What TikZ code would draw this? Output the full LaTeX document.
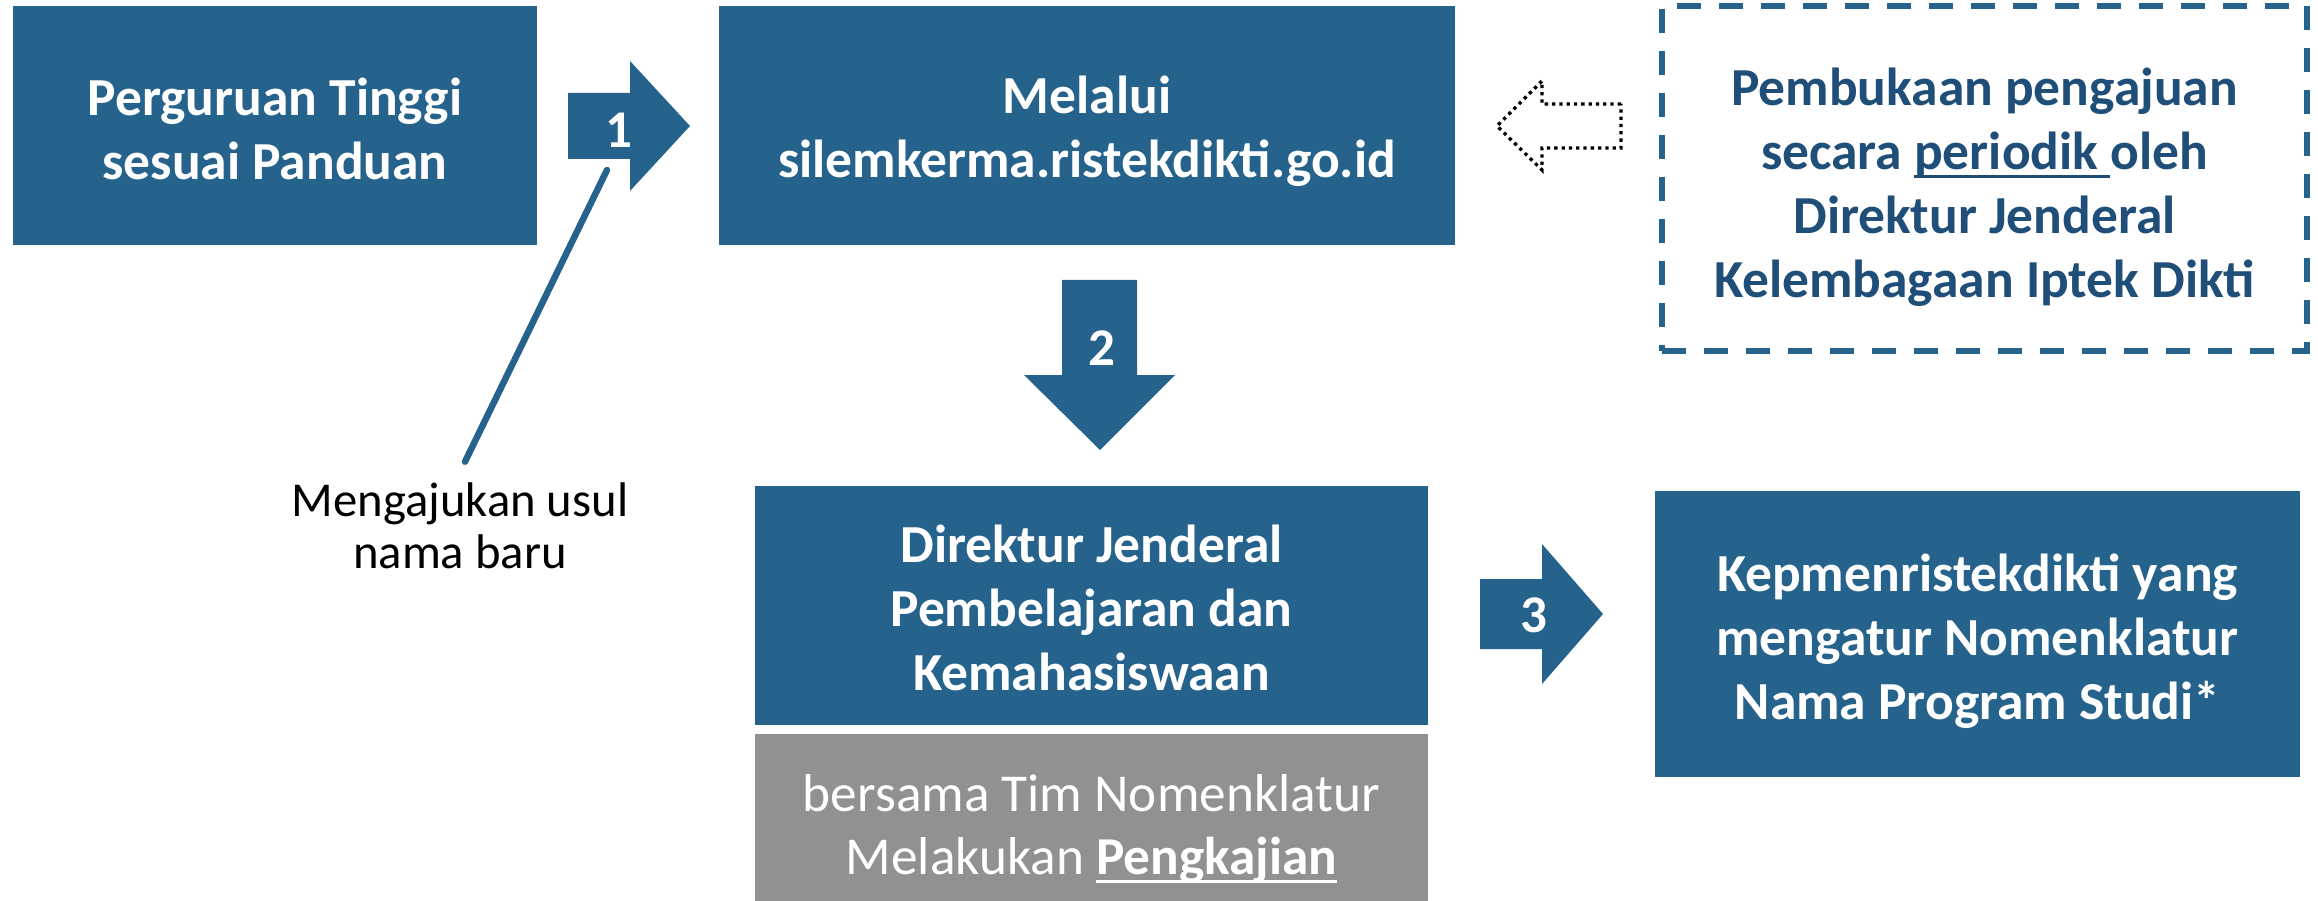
\documentclass[tikz,border=0pt]{standalone}
\usepackage{fontspec}
\setmainfont{Carlito}
\usetikzlibrary{calc}
\definecolor{boxblue}{RGB}{38,99,140}
\definecolor{darkblue}{RGB}{31,78,121}
\definecolor{boxgray}{RGB}{145,145,145}
\newcommand\myul[1]{\setbox0\hbox{#1}\rlap{\rule[-8.5pt]{\wd0}{3pt}}\box0}
\tikzset{
  x=1pt, y=-1pt,
  bluebox/.style={fill=boxblue, draw=none, inner sep=0pt, outer sep=0pt},
  graybox/.style={fill=boxgray, draw=none, inner sep=0pt, outer sep=0pt},
  dashbox/.style={draw=boxblue, line width=5.5pt, dash pattern=on 24pt off 18pt, inner sep=0pt},
  wtext/.style={text=white, font=\fontsize{53.5}{64}\selectfont\bfseries, align=center, inner sep=0pt},
  btext/.style={text=darkblue, font=\fontsize{53.5}{64}\selectfont\bfseries, align=center, inner sep=0pt},
  gtext/.style={text=white, font=\fontsize{53.3}{63}\selectfont, align=center, inner sep=0pt},
  ltext/.style={text=black, font=\fontsize{48.7}{52}\selectfont, align=center, inner sep=0pt},
  numtext/.style={text=white, font=\fontsize{53}{60}\selectfont\bfseries, inner sep=0pt},
  blockarrow/.style={fill=boxblue, draw=none},
  dotarrow/.style={draw=black, line width=3.3pt, dash pattern=on 3.3pt off 4pt},
  callout/.style={draw=boxblue, line width=6.5pt, line cap=round}
}
\begin{document}
\begin{tikzpicture}
\useasboundingbox (0,0) rectangle (2318,901);
% boxes
\node[bluebox, minimum width=524pt, minimum height=239pt] (A) at (275,125.5) {};
\node[bluebox, minimum width=736pt, minimum height=239pt] (B) at (1087,125.5) {};
\node[dashbox, minimum width=645pt, minimum height=345pt] (P) at (1984.5,178.5) {};
\node[bluebox, minimum width=673pt, minimum height=239pt] (C) at (1091.5,605.5) {};
\node[graybox, minimum width=673pt, minimum height=171pt] (G) at (1091.5,819.5) {};
\node[bluebox, minimum width=645pt, minimum height=286pt] (K) at (1977.5,634) {};
% texts
\node[wtext] (At) at (275,128.5) {Perguruan Tinggi\\sesuai Panduan};
\node[wtext] (Bt) at (1087,131.5) {Melalui\\silemkerma.ristekdikti.go.id};
\node[btext] (Pt) at (1984.5,187) {Pembukaan pengajuan\\secara \myul{periodik\ }oleh\\Direktur Jenderal\\Kelembagaan Iptek Dikti};
\node[wtext] (Ct) at (1091.5,608) {Direktur Jenderal\\Pembelajaran dan\\Kemahasiswaan};
\node[gtext] (Gt) at (1091.5,829) {bersama Tim Nomenklatur\\Melakukan \myul{\bfseries Pengkajian}};
\node[wtext] (Kt) at (1977.5,641) {Kepmenristekdikti yang\\mengatur Nomenklatur\\Nama Program Studi*};
\node[ltext] (lbl) at (460,526) {Mengajukan usul\\nama baru};
% block arrows
\fill[blockarrow] (568,93) -- (630,93) -- (630,61) -- (690,126) -- (630,191) -- (630,159) -- (568,159) -- cycle;
\fill[blockarrow] (1062,280) -- (1137,280) -- (1137,375) -- (1175,375) -- (1100,450) -- (1024,375) -- (1062,375) -- cycle;
\fill[blockarrow] (1480,579) -- (1542,579) -- (1542,544) -- (1603,614) -- (1542,684) -- (1542,649) -- (1480,649) -- cycle;
\node[numtext] (n1) at (619,130) {1};
\node[numtext] (n2) at (1101.5,348.5) {2};
\node[numtext] (n3) at (1534,615.5) {3};
% dotted arrow
\draw[dotarrow] (1621,104) -- (1542,104) -- (1542,81) -- (1497,126) -- (1542,170) -- (1542,148) -- (1621,148) -- cycle;
% callout line
\coordinate (c1) at (607,170);
\draw[callout] (c1) -- ($(lbl.north)+(5,-21)$);
\end{tikzpicture}
\end{document}
